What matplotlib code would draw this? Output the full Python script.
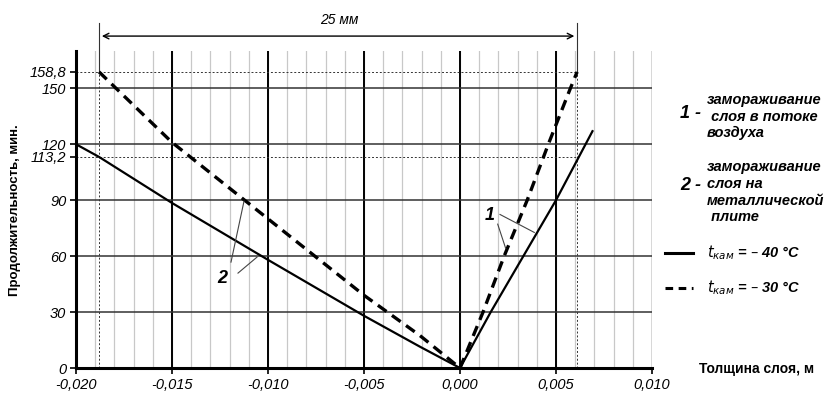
import matplotlib.pyplot as plt
import numpy as np

# curve 2 (freezing on metal plate), left branch
x2_solid = [-0.020, -0.0188, -0.015, -0.010, -0.005, -0.0021, 0.0]
y2_solid = [120, 113.2, 88.5, 58, 28, 11.5, 0]
x2_dash = [-0.0188, -0.015, -0.010, -0.005, -0.0021, 0.0]
y2_dash = [158.8, 121, 80, 39, 17.5, 0]

# curve 1 (freezing in air flow), right branch
x1_solid = [0.0, 0.0016, 0.0033, 0.0050, 0.0069]
y1_solid = [0, 30, 60, 90, 127]
x1_dash = [0.0, 0.0012, 0.0023, 0.0035, 0.0046, 0.00575, 0.0061]
y1_dash = [0, 30, 60, 90, 120, 150, 158.8]

x_ref = [-0.0188, 0.0061]
y_ref = [158.8, 113.2]
dim_label = "25 мм"

xticks = np.arange(-0.020, 0.0101, 0.005)
xtick_labels = ["-0,020", "-0,015", "-0,010", "-0,005", "0,000", "0,005", "0,010"]
yticks = [0, 30, 60, 90, 120, 150]

FONT = "Liberation Sans"
W, H = 828, 394
fig = plt.figure(figsize=(W / 100, H / 100), dpi=100)
ax = fig.add_axes([76 / W, 1 - 368 / H, (652 - 76) / W, (368 - 51) / H])
ax.set_xlim(-0.020, 0.010)
ax.set_ylim(0, 170)

# grid
for xm in np.arange(-0.020, 0.0101, 0.001):
    ax.axvline(xm, color="#c8c8c8", lw=0.9, zorder=1)
for xm in xticks[1:-1]:
    ax.axvline(xm, color="black", lw=1.4, zorder=2)
ax.axvline(0.010, color="#555555", lw=1.0, zorder=2)
for ym in yticks[1:]:
    ax.axhline(ym, color="#333333", lw=1.1, zorder=2)

# reference dotted lines
for yr in y_ref:
    ax.plot([-0.020, x_ref[1]], [yr, yr], color="#333333", lw=0.7, ls=(0, (2, 2)), zorder=2)
for xr in x_ref:
    ax.plot([xr, xr], [0, 158.8], color="#333333", lw=0.7, ls=(0, (2, 2)), zorder=2)
    ax.plot([xr, xr], [158.8, 185], color="#333333", lw=0.8, clip_on=False, zorder=2)

ax.annotate("", xy=(x_ref[0], 178), xytext=(x_ref[1], 178),
            arrowprops=dict(arrowstyle="<->", color="black", lw=1.0, mutation_scale=10),
            annotation_clip=False)
ax.text(-0.0063, 183, dim_label, ha="center", va="bottom", fontsize=10,
        style="italic", family=FONT)

# curves
kw_s = dict(color="black", lw=1.6, zorder=4)
kw_d = dict(color="black", lw=2.4, ls=(0, (3.2, 2)), zorder=4)
ax.plot(x2_solid, y2_solid, **kw_s)
ax.plot(x2_dash, y2_dash, **kw_d)
ax.plot(x1_solid, y1_solid, **kw_s)
ax.plot(x1_dash, y1_dash, **kw_d)


def px(xp, yp):
    return (xp - 460) / 96 * 0.005, (368 - yp) / 56 * 30


def leader(p0, p1):
    a, b = px(*p0), px(*p1)
    ax.plot([a[0], b[0]], [a[1], b[1]], color="#444444", lw=0.8, zorder=5)


ax.text(*px(490, 215), "1", fontsize=13, fontweight="bold", style="italic",
        family=FONT, ha="center", va="center", zorder=5)
leader((497.7, 224), (505.7, 248.3))
leader((500, 214.3), (534.3, 232.3))
ax.text(*px(222, 278), "2", fontsize=13, fontweight="bold", style="italic",
        family=FONT, ha="center", va="center", zorder=5)
leader((231, 262), (244, 201))
leader((238, 273), (257, 257))

# axes styling
for s in ["top", "right"]:
    ax.spines[s].set_visible(False)
for s in ["left", "bottom"]:
    ax.spines[s].set_linewidth(2.2)
    ax.spines[s].set_zorder(6)
tick_font = dict(fontstyle="italic", family=FONT, fontsize=10.5)
ax.set_xticks(xticks)
ax.set_xticklabels(xtick_labels, **tick_font)
ax.set_yticks(yticks + [113.2, 158.8])
ax.set_yticklabels([str(v) for v in yticks] + ["113,2", "158,8"], **tick_font)
ax.tick_params(length=4, width=1.2, pad=3)

fig.text(15 / W, 1 - 210 / H, "Продолжительность, мин.", rotation=90,
         ha="center", va="center", fontsize=9.5, fontweight="bold", family=FONT)
fig.text(757 / W, 1 - 369 / H, "Толщина слоя, м", ha="center", va="center",
         fontsize=10, fontweight="bold", family=FONT)

# legend block drawn as text
lkw = dict(fontsize=10.5, fontweight="bold", style="italic", family=FONT,
           ha="left", va="center")
big = dict(fontsize=13, fontweight="bold", style="italic", family=FONT,
           ha="left", va="center")
fig.text(680 / W, 1 - 113 / H, "1 -", **big)
fig.text(707 / W, 1 - 100 / H, "замораживание", **lkw)
fig.text(707 / W, 1 - 117 / H, " слоя в потоке", **lkw)
fig.text(707 / W, 1 - 133 / H, "воздуха", **lkw)
fig.text(680 / W, 1 - 185 / H, "2 -", **big)
fig.text(707 / W, 1 - 167 / H, "замораживание", **lkw)
fig.text(707 / W, 1 - 184 / H, "слоя на", **lkw)
fig.text(707 / W, 1 - 201 / H, "металлической", **lkw)
fig.text(707 / W, 1 - 217 / H, " плите", **lkw)

fig.add_artist(plt.Line2D([665 / W, 693 / W], [1 - 253 / H] * 2, color="black", lw=2.2))
fig.add_artist(plt.Line2D([665 / W, 693 / W], [1 - 288 / H] * 2, color="black", lw=2.2,
                          ls=(0, (2.5, 1.8))))
fig.text(707 / W, 1 - 253 / H, r"$t_{\mathit{кам}}$ = – 40 °C", **lkw)
fig.text(707 / W, 1 - 288 / H, r"$t_{\mathit{кам}}$ = – 30 °C", **lkw)

fig.savefig("out.png", dpi=100)
